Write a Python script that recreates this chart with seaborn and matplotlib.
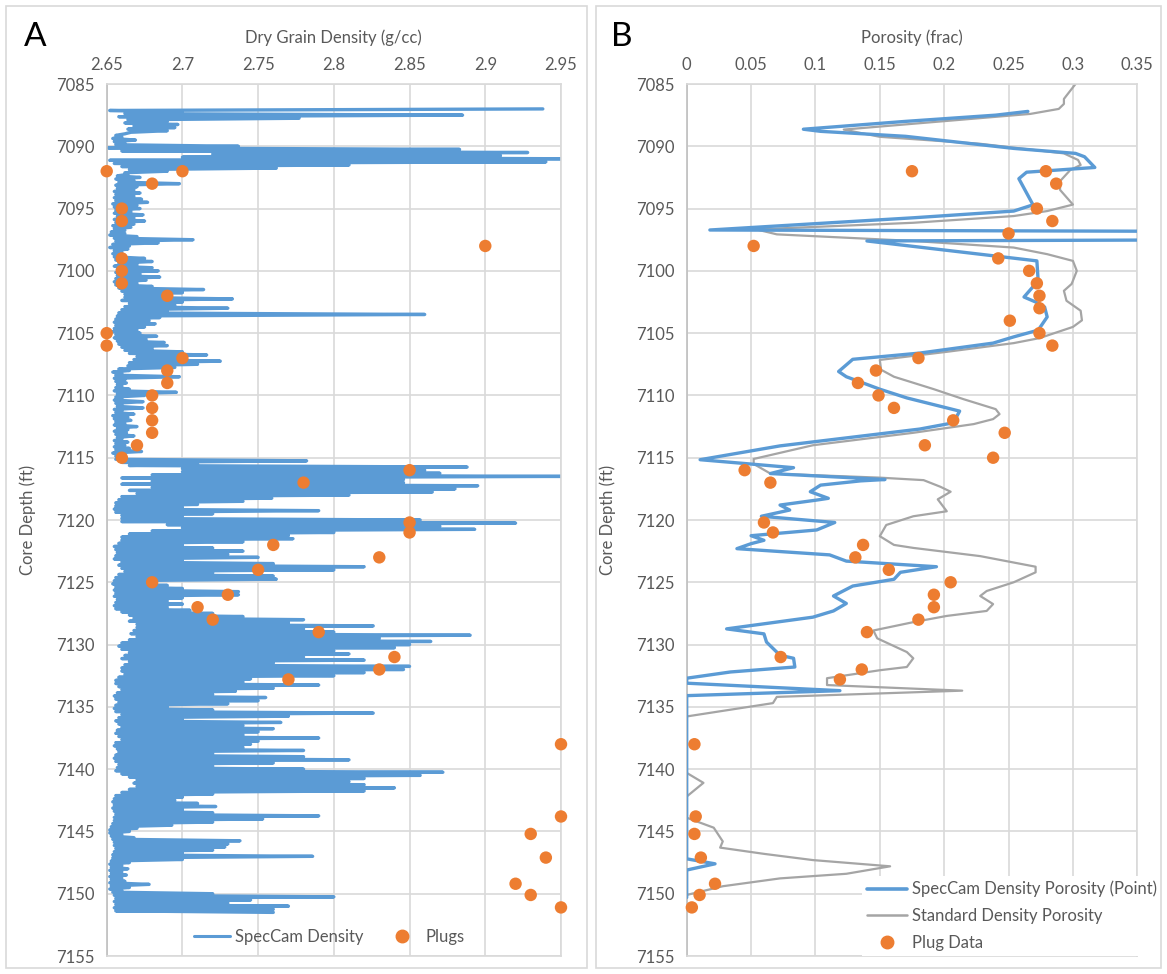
import numpy as np
import matplotlib
matplotlib.use("Agg")
import matplotlib.pyplot as plt
from matplotlib.patches import Rectangle
from matplotlib.lines import Line2D
import seaborn as sns

# ---------------- DATA ----------------
# Panel A: SpecCam dry grain density, sampled every 0.25 ft from 7087.0 ft.
# Each sample holds a local peak (at the sample depth) and a local trough (0.125 ft below).
spec_start_depth = 7087.0
spec_step = 0.25
spec_peaks = [
    2.938, 2.700, 2.885, 2.777,  # 7087
    2.690, 2.697, 2.695, 2.690,  # 7088
    2.662, 2.660, 2.669, 2.662,  # 7089
    2.737, 2.883, 2.928, 2.910,  # 7090
    2.950, 2.940, 2.810, 2.762,  # 7091
    2.690, 2.664, 2.672, 2.668,  # 7092
    2.698, 2.670, 2.668, 2.672,  # 7093
    2.668, 2.673, 2.677, 2.670,  # 7094
    2.672, 2.666, 2.674, 2.668,  # 7095
    2.675, 2.668, 2.666, 2.662,  # 7096
    2.662, 2.670, 2.707, 2.684,  # 7097
    2.665, 2.664, 2.660, 2.662,  # 7098
    2.675, 2.680, 2.670, 2.680,  # 7099
    2.684, 2.672, 2.685, 2.676,  # 7100
    2.670, 2.680, 2.714, 2.700,  # 7101
    2.690, 2.733, 2.700, 2.695,  # 7102
    2.730, 2.690, 2.860, 2.685,  # 7103
    2.678, 2.682, 2.675, 2.670,  # 7104
    2.672, 2.683, 2.676, 2.688,  # 7105
    2.690, 2.680, 2.700, 2.716,  # 7106
    2.700, 2.725, 2.710, 2.695,  # 7107
    2.665, 2.660, 2.698, 2.662,  # 7108
    2.663, 2.660, 2.665, 2.696,  # 7109
    2.675, 2.660, 2.674, 2.660,  # 7110
    2.674, 2.660, 2.668, 2.664,  # 7111
    2.666, 2.662, 2.670, 2.664,  # 7112
    2.663, 2.668, 2.660, 2.664,  # 7113
    2.662, 2.665, 2.673, 2.660,  # 7114
    2.660, 2.782, 2.710, 2.888,  # 7115
    2.860, 2.870, 2.950, 2.846,  # 7116
    2.846, 2.895, 2.880, 2.865,  # 7117
    2.810, 2.759, 2.740, 2.710,  # 7118
    2.700, 2.790, 2.720, 2.700,  # 7119
    2.857, 2.920, 2.870, 2.893,  # 7120
    2.800, 2.770, 2.773, 2.740,  # 7121
    2.700, 2.720, 2.740, 2.730,  # 7122
    2.750, 2.700, 2.760, 2.820,  # 7123
    2.800, 2.720, 2.760, 2.762,  # 7124
    2.680, 2.690, 2.700, 2.737,  # 7125
    2.737, 2.700, 2.690, 2.700,  # 7126
    2.690, 2.705, 2.720, 2.740,  # 7127
    2.780, 2.770, 2.826, 2.780,  # 7128
    2.800, 2.890, 2.830, 2.864,  # 7129
    2.850, 2.840, 2.800, 2.810,  # 7130
    2.780, 2.820, 2.760, 2.850,  # 7131
    2.846, 2.820, 2.800, 2.745,  # 7132
    2.740, 2.790, 2.760, 2.735,  # 7133
    2.720, 2.755, 2.750, 2.730,  # 7134
    2.690, 2.720, 2.826, 2.770,  # 7135
    2.700, 2.765, 2.740, 2.760,  # 7136
    2.750, 2.740, 2.790, 2.750,  # 7137
    2.745, 2.740, 2.780, 2.720,  # 7138
    2.780, 2.810, 2.760, 2.720,  # 7139
    2.780, 2.872, 2.857, 2.820,  # 7140
    2.810, 2.820, 2.840, 2.820,  # 7141
    2.720, 2.700, 2.695, 2.710,  # 7142
    2.722, 2.700, 2.720, 2.790,  # 7143
    2.753, 2.720, 2.693, 2.670,  # 7144
    2.665, 2.660, 2.668, 2.738,  # 7145
    2.730, 2.728, 2.720, 2.700,  # 7146
    2.786, 2.700, 2.665, 2.660,  # 7147
    2.664, 2.660, 2.663, 2.660,  # 7148
    2.662, 2.678, 2.665, 2.660,  # 7149
    2.720, 2.800, 2.745, 2.730,  # 7150
    2.770, 2.760, 2.760,         # 7151
]
spec_troughs = [
    2.652, 2.662, 2.658, 2.664,  # 7087
    2.662, 2.668, 2.664, 2.666,  # 7088
    2.656, 2.654, 2.655, 2.656,  # 7089
    2.651, 2.660, 2.720, 2.700,  # 7090
    2.652, 2.655, 2.660, 2.665,  # 7091
    2.662, 2.657, 2.656, 2.658,  # 7092
    2.656, 2.657, 2.655, 2.656,  # 7093
    2.655, 2.656, 2.654, 2.655,  # 7094
    2.656, 2.655, 2.657, 2.655,  # 7095
    2.656, 2.654, 2.655, 2.653,  # 7096
    2.652, 2.655, 2.656, 2.654,  # 7097
    2.652, 2.655, 2.654, 2.655,  # 7098
    2.656, 2.658, 2.655, 2.657,  # 7099
    2.656, 2.657, 2.656, 2.655,  # 7100
    2.656, 2.658, 2.660, 2.662,  # 7101
    2.662, 2.660, 2.665, 2.662,  # 7102
    2.660, 2.658, 2.657, 2.656,  # 7103
    2.655, 2.656, 2.655, 2.654,  # 7104
    2.656, 2.655, 2.657, 2.658,  # 7105
    2.660, 2.662, 2.665, 2.670,  # 7106
    2.668, 2.665, 2.664, 2.658,  # 7107
    2.654, 2.656, 2.655, 2.656,  # 7108
    2.657, 2.656, 2.655, 2.657,  # 7109
    2.656, 2.655, 2.656, 2.657,  # 7110
    2.655, 2.656, 2.654, 2.655,  # 7111
    2.656, 2.655, 2.657, 2.655,  # 7112
    2.656, 2.657, 2.655, 2.656,  # 7113
    2.655, 2.656, 2.654, 2.656,  # 7114
    2.656, 2.660, 2.665, 2.700,  # 7115
    2.700, 2.680, 2.660, 2.680,  # 7116
    2.660, 2.680, 2.665, 2.670,  # 7117
    2.660, 2.658, 2.656, 2.656,  # 7118
    2.655, 2.656, 2.660, 2.660,  # 7119
    2.660, 2.690, 2.700, 2.680,  # 7120
    2.665, 2.660, 2.660, 2.658,  # 7121
    2.655, 2.656, 2.657, 2.656,  # 7122
    2.655, 2.660, 2.658, 2.660,  # 7123
    2.662, 2.658, 2.656, 2.655,  # 7124
    2.654, 2.656, 2.655, 2.656,  # 7125
    2.655, 2.657, 2.656, 2.655,  # 7126
    2.656, 2.660, 2.665, 2.668,  # 7127
    2.665, 2.670, 2.670, 2.668,  # 7128
    2.666, 2.670, 2.665, 2.660,  # 7129
    2.658, 2.660, 2.665, 2.662,  # 7130
    2.660, 2.665, 2.662, 2.660,  # 7131
    2.660, 2.662, 2.658, 2.656,  # 7132
    2.656, 2.658, 2.660, 2.657,  # 7133
    2.655, 2.656, 2.658, 2.656,  # 7134
    2.655, 2.656, 2.660, 2.658,  # 7135
    2.656, 2.658, 2.660, 2.657,  # 7136
    2.656, 2.658, 2.660, 2.656,  # 7137
    2.655, 2.657, 2.658, 2.656,  # 7138
    2.655, 2.656, 2.658, 2.657,  # 7139
    2.656, 2.660, 2.665, 2.670,  # 7140
    2.668, 2.670, 2.665, 2.660,  # 7141
    2.656, 2.655, 2.654, 2.655,  # 7142
    2.654, 2.655, 2.656, 2.655,  # 7143
    2.655, 2.654, 2.653, 2.652,  # 7144
    2.652, 2.653, 2.654, 2.655,  # 7145
    2.655, 2.656, 2.655, 2.654,  # 7146
    2.654, 2.653, 2.652, 2.653,  # 7147
    2.652, 2.653, 2.652, 2.653,  # 7148
    2.652, 2.653, 2.652, 2.654,  # 7149
    2.655, 2.656, 2.655, 2.656,  # 7150
    2.655, 2.656, 2.655,         # 7151
]

plugA_depth = [7092, 7092, 7093, 7095, 7096, 7098, 7099, 7100, 7101, 7102,
               7105, 7106, 7107, 7108, 7109, 7110, 7111, 7112, 7113, 7114,
               7115, 7116, 7117, 7120.2, 7121, 7122, 7123, 7124, 7125, 7126,
               7127, 7128, 7129, 7131, 7132, 7132.8, 7138, 7143.8, 7145.2,
               7147.1, 7149.2, 7150.1, 7151.1]
plugA_density = [2.65, 2.70, 2.68, 2.66, 2.66, 2.90, 2.66, 2.66, 2.66, 2.69,
                 2.65, 2.65, 2.70, 2.69, 2.69, 2.68, 2.68, 2.68, 2.68, 2.67,
                 2.66, 2.85, 2.78, 2.85, 2.85, 2.76, 2.83, 2.75, 2.68, 2.73,
                 2.71, 2.72, 2.79, 2.84, 2.83, 2.77, 2.95, 2.95, 2.93,
                 2.94, 2.92, 2.93, 2.95]

# Panel B
spec_por_depth = [7087.2, 7087.5, 7088.0, 7088.63, 7088.8, 7089.2, 7090.17, 7090.57,
                  7090.84, 7091.7, 7092.08, 7092.6, 7094.7, 7095.2, 7095.74, 7096.72,
                  7097.15, 7097.6, 7099.2, 7100.8, 7102.1, 7102.5, 7102.9, 7103.7,
                  7104.76, 7105.3, 7105.8, 7106.6, 7107.1, 7108.08, 7108.5, 7109.5,
                  7110.2, 7111.26, 7112.2, 7112.7, 7114.05, 7115.16, 7115.8, 7116.27,
                  7116.75, 7116.86, 7117.2, 7117.73, 7118.26, 7118.4, 7118.8, 7119.2,
                  7119.7, 7120.2, 7120.8, 7121.26, 7121.63, 7121.9, 7122.3, 7122.8,
                  7123.3, 7123.75, 7124.2, 7124.76, 7125.3, 7126.1, 7126.7, 7127.3,
                  7127.8, 7128.74, 7129.14, 7129.8, 7130.86, 7131.1, 7131.8, 7132.2,
                  7132.7, 7133.1, 7133.7, 7134.1, 7147.2, 7147.6, 7148.1, 7150.3]
spec_por_value = [0.265, 0.240, 0.170, 0.0906, 0.104, 0.170, 0.254, 0.302,
                  0.309, 0.317, 0.264, 0.258, 0.269, 0.254, 0.176, 0.018,
                  1.500, 0.140, 0.272, 0.273, 0.262, 0.271, 0.278, 0.280,
                  0.273, 0.254, 0.238, 0.181, 0.129, 0.118, 0.124, 0.150,
                  0.171, 0.212, 0.207, 0.181, 0.0725, 0.0104, 0.083, 0.065,
                  0.154, 0.135, 0.104, 0.096, 0.110, 0.101, 0.0725, 0.080,
                  0.058, 0.115, 0.101, 0.050, 0.060, 0.050, 0.039, 0.111,
                  0.124, 0.194, 0.166, 0.161, 0.129, 0.114, 0.124, 0.114,
                  0.098, 0.031, 0.060, 0.062, 0.0725, 0.083, 0.084, 0.034,
                  0.0, 0.0, 0.119, 0.0, 0.0, 0.022, 0.0, 0.0]

std_por_depth = [7085.0, 7085.4, 7085.93, 7086.2, 7086.6, 7087.0, 7087.4, 7088.66,
                 7089.24, 7089.8, 7090.57, 7091.1, 7091.5, 7091.9, 7092.8, 7093.5,
                 7094.68, 7095.2, 7095.6, 7096.14, 7096.67, 7097.07, 7097.6, 7098.13,
                 7098.66, 7099.2, 7100.0, 7101.05, 7101.6, 7102.4, 7103.2, 7103.97,
                 7104.5, 7105.4, 7105.8, 7106.5, 7107.15, 7107.94, 7108.5, 7109.5,
                 7110.3, 7111.1, 7111.5, 7111.9, 7112.3, 7113.0, 7114.0, 7115.1,
                 7115.5, 7116.27, 7116.6, 7116.8, 7117.33, 7117.73, 7118.34, 7119.3,
                 7119.7, 7120.4, 7121.3, 7122.0, 7122.24, 7122.9, 7123.75, 7124.2,
                 7125.0, 7125.7, 7126.1, 7126.75, 7127.3, 7127.7, 7128.2, 7128.87,
                 7129.5, 7130.6, 7131.1, 7131.8, 7132.06, 7132.7, 7133.25, 7133.7,
                 7134.2, 7134.7, 7135.77, 7140.3, 7141.1, 7142.2, 7143.9, 7144.7,
                 7145.8, 7146.3, 7146.8, 7147.3, 7147.8, 7148.4, 7148.77, 7149.4,
                 7150.1]
std_por_value = [0.302, 0.299, 0.295, 0.293, 0.293, 0.289, 0.267, 0.122,
                 0.150, 0.228, 0.293, 0.304, 0.306, 0.298, 0.290, 0.290,
                 0.300, 0.280, 0.254, 0.176, 0.054, 0.070, 0.176, 0.254,
                 0.280, 0.300, 0.303, 0.299, 0.293, 0.295, 0.306, 0.307,
                 0.300, 0.274, 0.254, 0.202, 0.150, 0.151, 0.161, 0.192,
                 0.215, 0.240, 0.243, 0.238, 0.223, 0.176, 0.098, 0.052,
                 0.052, 0.065, 0.150, 0.184, 0.197, 0.205, 0.195, 0.202,
                 0.176, 0.155, 0.150, 0.161, 0.176, 0.228, 0.271, 0.271,
                 0.254, 0.233, 0.228, 0.238, 0.233, 0.202, 0.176, 0.145,
                 0.148, 0.171, 0.176, 0.171, 0.150, 0.109, 0.109, 0.214,
                 0.070, 0.067, 0.0, 0.0, 0.013, 0.0, 0.0, 0.021,
                 0.028, 0.026, 0.060, 0.098, 0.158, 0.124, 0.0725, 0.028,
                 0.0]

plugB_depth = [7092, 7092, 7093, 7095, 7096, 7097, 7098, 7099, 7100, 7101,
               7102, 7103, 7104, 7105, 7106, 7107, 7108, 7109, 7110, 7111,
               7112, 7113, 7114, 7115, 7116, 7117, 7120.2, 7121, 7122, 7123,
               7124, 7125, 7126, 7127, 7128, 7129, 7131, 7132, 7132.8, 7138,
               7143.8, 7145.2, 7147.1, 7149.2, 7150.1, 7151.1]
plugB_porosity = [0.175, 0.279, 0.287, 0.272, 0.284, 0.250, 0.052, 0.242, 0.266, 0.272,
                  0.274, 0.274, 0.251, 0.274, 0.284, 0.180, 0.147, 0.133, 0.149, 0.161,
                  0.207, 0.247, 0.185, 0.238, 0.045, 0.065, 0.060, 0.067, 0.137, 0.131,
                  0.157, 0.205, 0.192, 0.192, 0.180, 0.140, 0.073, 0.136, 0.119, 0.006,
                  0.007, 0.006, 0.011, 0.022, 0.010, 0.004]

depth_ticks = [7085, 7090, 7095, 7100, 7105, 7110, 7115, 7120, 7125, 7130, 7135, 7140, 7145, 7150, 7155]
densA_ticks = [2.65, 2.70, 2.75, 2.80, 2.85, 2.90, 2.95]
densA_labels = ["2.65", "2.7", "2.75", "2.8", "2.85", "2.9", "2.95"]
porB_ticks = [0, 0.05, 0.10, 0.15, 0.20, 0.25, 0.30, 0.35]
porB_labels = ["0", "0.05", "0.1", "0.15", "0.2", "0.25", "0.3", "0.35"]

# ---------------- STYLE ----------------
sns.set_theme(style="white")
plt.rcParams['font.family'] = ['Lato', 'DejaVu Sans']
BLUE = "#5B9BD5"
ORANGE = "#ED7D31"
GRAY = "#A5A5A5"
GRID = "#D9D9D9"
TXT = "#595959"

W, H = 1167, 974
fig = plt.figure(figsize=(W / 100, H / 100), dpi=100)
fig.patch.set_facecolor("white")

top_px, bot_px = 84, 956
axA = fig.add_axes([106.7 / W, 1 - bot_px / H, 454.3 / W, (bot_px - top_px) / H])
axB = fig.add_axes([686.7 / W, 1 - bot_px / H, 450.6 / W, (bot_px - top_px) / H])

# chart area borders
for x0, x1 in [(6, 587), (596, 1161)]:
    fig.patches.append(Rectangle((x0 / W, 1 - 968 / H), (x1 - x0) / W, (968 - 6) / H,
                                 transform=fig.transFigure, fill=False,
                                 edgecolor=GRID, linewidth=1.2))

# ---- Panel A ----
pk = np.asarray(spec_peaks)
tr = np.asarray(spec_troughs)
pk_depth = spec_start_depth + spec_step * np.arange(len(pk))
tr_depth = pk_depth + spec_step / 2
specA_depth = np.column_stack([pk_depth, tr_depth]).ravel()[:-1]
specA_density = np.column_stack([pk, tr]).ravel()[:-1]

sns.lineplot(x=specA_density, y=specA_depth, sort=False, estimator=None, ax=axA,
             color=BLUE, linewidth=2.4, label="SpecCam Density", legend=False)
sns.scatterplot(x=plugA_density, y=plugA_depth, ax=axA, color=ORANGE, s=80,
                edgecolor="none", label="Plugs", legend=False, zorder=4)

# ---- Panel B ----
sns.lineplot(x=std_por_value, y=std_por_depth, sort=False, estimator=None, ax=axB,
             color=GRAY, linewidth=1.6, legend=False, zorder=2)
sns.lineplot(x=spec_por_value, y=spec_por_depth, sort=False, estimator=None, ax=axB,
             color=BLUE, linewidth=2.4, legend=False, zorder=3)
sns.scatterplot(x=plugB_porosity, y=plugB_depth, ax=axB, color=ORANGE, s=80,
                edgecolor="none", legend=False, zorder=4)

for ax, xt, xl, xlim, xlabel in [
    (axA, densA_ticks, densA_labels, (2.65, 2.95), "Dry Grain Density (g/cc)"),
    (axB, porB_ticks, porB_labels, (0, 0.35), "Porosity (frac)"),
]:
    for c in ax.collections:
        c.set_clip_on(False)
    ax.set_xlim(*xlim)
    ax.set_ylim(7155, 7085)
    ax.set_xticks(xt)
    ax.set_xticklabels(xl)
    ax.set_yticks(depth_ticks)
    ax.set_yticklabels([str(t) for t in depth_ticks])
    ax.xaxis.tick_top()
    ax.xaxis.set_label_position("top")
    ax.set_xlabel(xlabel, fontsize=12, color=TXT, labelpad=10)
    ax.set_ylabel("Core Depth (ft)", fontsize=12, color=TXT, labelpad=14)
    ax.tick_params(axis="both", length=0, labelsize=12, labelcolor=TXT)
    ax.tick_params(axis="x", pad=8)
    ax.tick_params(axis="y", pad=9)
    ax.grid(True, color=GRID, linewidth=1.2)
    ax.set_axisbelow(True)
    for s in ax.spines.values():
        s.set_color(GRID)
        s.set_linewidth(1.2)
    ax.spines["left"].set_color("#BFBFBF")
    ax.set_facecolor("white")

# legends
hA = [Line2D([], [], color=BLUE, lw=2.2),
      Line2D([], [], color=ORANGE, marker="o", ls="none", markersize=9)]
legA = axA.legend(hA, ["SpecCam Density", "Plugs"], loc="center",
                  bbox_to_anchor=(0.49, 0.022), ncol=2, frameon=False, fontsize=12,
                  handlelength=2.2, columnspacing=1.2, handletextpad=0.3)
for t in legA.get_texts():
    t.set_color(TXT)

hB = [Line2D([], [], color=BLUE, lw=2.6),
      Line2D([], [], color=GRAY, lw=1.8),
      Line2D([], [], color=ORANGE, marker="o", ls="none", markersize=9)]
legB = axB.legend(hB, ["SpecCam Density Porosity (Point)", "Standard Density Porosity", "Plug Data"],
                  loc="center left", bbox_to_anchor=(0.37, 0.046), frameon=True,
                  fontsize=12, handlelength=2.4, labelspacing=0.65, handletextpad=0.3,
                  borderpad=0.3, fancybox=False)
legB.get_frame().set_facecolor("white")
legB.get_frame().set_edgecolor("none")
legB.get_frame().set_alpha(1)
for t in legB.get_texts():
    t.set_color(TXT)

fig.text(35 / W, 1 - 37 / H, "A", fontsize=24, color="black", ha="center", va="center")
fig.text(622 / W, 1 - 37 / H, "B", fontsize=24, color="black", ha="center", va="center")

fig.savefig("out.png", dpi=100, facecolor="white")
